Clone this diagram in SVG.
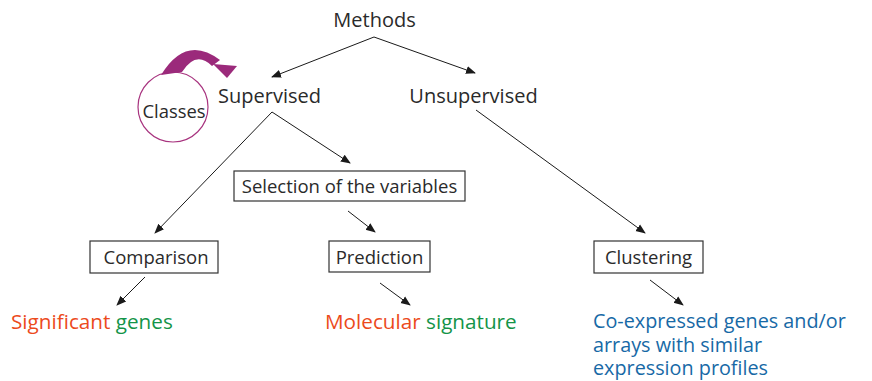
<svg xmlns="http://www.w3.org/2000/svg" width="872" height="381" viewBox="0 0 872 381">
<defs>
<marker id="ah" viewBox="0 0 10 10" refX="9" refY="5" markerWidth="10" markerHeight="10" markerUnits="userSpaceOnUse" orient="auto">
<path d="M0,1 L10,5 L0,9 Z" fill="#1a1a1a"/>
</marker>
<style>
text{font-family:"Open Sans","Noto Sans","DejaVu Sans",sans-serif;fill:#2a2a2a;font-weight:500}
.big{font-size:20px}
.box{fill:#fff;stroke:#333;stroke-width:1.2}
.lbl{font-size:18.5px}
.res{font-size:20.7px}
.multi{font-size:19.8px}
.conn line{stroke:#1a1a1a;stroke-width:1;marker-end:url(#ah)}
.red{fill:#ec4a1c}
.green{fill:#149448}
.blue{fill:#1769a6}
</style>
</defs>
<rect width="872" height="381" fill="#fff"/>
<g id="methods"><text class="big" x="374.5" y="27" text-anchor="middle">Methods</text></g>
<g id="supervised"><text class="big" x="269.5" y="103" text-anchor="middle">Supervised</text></g>
<g id="unsupervised"><text class="big" x="473.5" y="103" text-anchor="middle">Unsupervised</text></g>
<g id="classes">
<circle cx="173" cy="107" r="35" fill="none" stroke="#a8347f" stroke-width="1.2"/>
<text x="174" y="118" text-anchor="middle" style="font-size:18.4px">Classes</text>
<path d="M161,75 Q186,34 220,60 L212,66 Q196,50 182,72 Z" fill="#9b2a7b"/>
<path d="M213,64 L237,66 L227,78 Z" fill="#9b2a7b"/>
</g>
<g id="selection">
<rect class="box" x="234" y="171" width="231" height="30"/>
<text class="lbl" x="349.5" y="193" text-anchor="middle">Selection of the variables</text>
</g>
<g id="comparison">
<rect class="box" x="90" y="241" width="128" height="32"/>
<text class="lbl" x="156" y="264" text-anchor="middle">Comparison</text>
</g>
<g id="prediction">
<rect class="box" x="329" y="241" width="101" height="31"/>
<text class="lbl" x="379.5" y="264" text-anchor="middle">Prediction</text>
</g>
<g id="clustering">
<rect class="box" x="594" y="241" width="109" height="32"/>
<text class="lbl" x="648.5" y="264" text-anchor="middle">Clustering</text>
</g>
<g id="significant"><text class="res" x="11" y="329"><tspan class="red">Significant</tspan> <tspan class="green">genes</tspan></text></g>
<g id="molecular"><text class="res" x="325" y="329"><tspan class="red">Molecular</tspan> <tspan class="green">signature</tspan></text></g>
<g id="coexpressed">
<text class="multi blue" x="593" y="328">Co-expressed genes and/or</text>
<text class="multi blue" x="593" y="352">arrays with similar</text>
<text class="multi blue" x="593" y="375">expression profiles</text>
</g>
<g class="conn" id="connectors">
<line x1="374" y1="37" x2="272" y2="77"/>
<line x1="374" y1="37" x2="475" y2="73"/>
<line x1="272" y1="112" x2="155" y2="233"/>
<line x1="272" y1="112" x2="350" y2="163"/>
<line x1="476" y1="110" x2="645" y2="233"/>
<line x1="348" y1="211" x2="375" y2="232"/>
<line x1="145" y1="277" x2="117" y2="305"/>
<line x1="380" y1="283" x2="410" y2="305"/>
<line x1="650" y1="280" x2="683" y2="305"/>
</g>
</svg>
